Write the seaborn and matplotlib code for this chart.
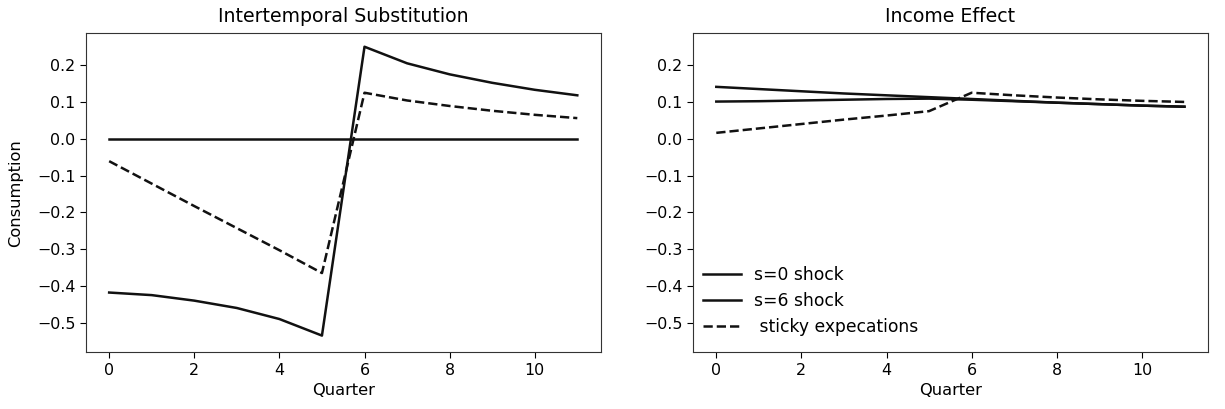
import numpy as np
import pandas as pd
import matplotlib
matplotlib.use("Agg")
import matplotlib.pyplot as plt
import seaborn as sns

quarters = list(range(12))

# Intertemporal substitution
inter_s0 = [0.0] * 12
inter_s6 = [-0.418, -0.425, -0.440, -0.460, -0.490, -0.535,
            0.250, 0.205, 0.175, 0.152, 0.133, 0.118]
inter_sticky = [-0.061, -0.122, -0.183, -0.243, -0.303, -0.365,
                0.125, 0.104, 0.089, 0.076, 0.065, 0.056]

# Income effect
inc_s0 = [0.141, 0.135, 0.129, 0.123, 0.118, 0.113,
          0.108, 0.103, 0.098, 0.094, 0.090, 0.087]
inc_s6 = [0.101, 0.102, 0.104, 0.106, 0.108, 0.109,
          0.106, 0.102, 0.098, 0.094, 0.090, 0.087]
inc_sticky = [0.016, 0.028, 0.040, 0.052, 0.063, 0.075,
              0.125, 0.118, 0.112, 0.107, 0.103, 0.100]

labels = ["s=0 shock", "s=6 shock", " sticky expecations"]
titles = ["Intertemporal Substitution", "Income Effect"]

plt.rcParams["xtick.labelsize"] = 11.4
plt.rcParams["ytick.labelsize"] = 11.4
plt.rcParams["xtick.major.size"] = 4
plt.rcParams["ytick.major.size"] = 4
plt.rcParams["axes.edgecolor"] = "#333333"

fig, axes = plt.subplots(1, 2, figsize=(12.25, 4.09), dpi=100)
fig.subplots_adjust(left=0.070, right=0.986, top=0.919, bottom=0.139, wspace=0.179)

panels = [(inter_s0, inter_s6, inter_sticky), (inc_s0, inc_s6, inc_sticky)]
for ax, title, series in zip(axes, titles, panels):
    for vals, lab, ls in zip(series, labels, ["-", "-", "--"]):
        df = pd.DataFrame({"Quarter": quarters, "Consumption": vals})
        sns.lineplot(data=df, x="Quarter", y="Consumption", ax=ax, color="#111111",
                     linestyle=ls, linewidth=1.8, label=lab, legend=False)
    ax.set_title(title, fontsize=13.6, pad=8)
    ax.set_ylim(-0.58, 0.287)
    ax.set_yticks([-0.5, -0.4, -0.3, -0.2, -0.1, 0.0, 0.1, 0.2])
    ax.set_xticks([0, 2, 4, 6, 8, 10])
    ax.set_xlabel("Quarter", fontsize=11.7)

axes[0].set_ylabel("Consumption", fontsize=11.7, labelpad=10)
axes[1].set_ylabel("")
axes[1].legend(loc="lower left", bbox_to_anchor=(0.0, 0.02), frameon=False,
               fontsize=12.3, borderaxespad=0.2, handlelength=2.2,
               labelspacing=0.45)

fig.savefig("out.png", dpi=100)
